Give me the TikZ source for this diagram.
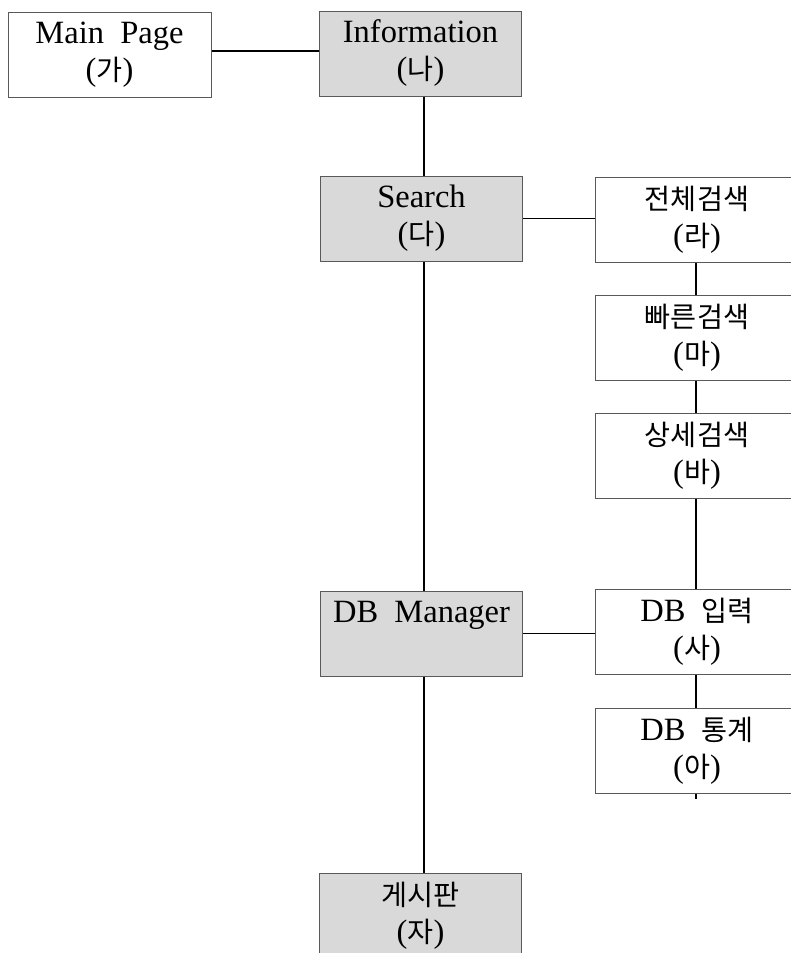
\documentclass[tikz,border=0pt]{standalone}
\usepackage{fontspec}
\setmainfont{Liberation Serif}
\newfontfamily\kr{Noto Sans CJK KR}[Scale=0.87]
\begin{document}
\begin{tikzpicture}[x=1pt,y=-1pt,
  box/.style={draw=black!65,line width=1pt,minimum height=85pt,inner sep=0pt,
    align=center,font=\fontsize{32.5}{37}\selectfont},
  wbox/.style={box,fill=white,minimum width=203pt},
  gbox/.style={box,fill=black!15,minimum width=202pt},
  link/.style={draw=black,line width=1.3pt}]
\useasboundingbox (0,0) rectangle (791,953);
\clip (0,0) rectangle (791,953);
% left / centre column
\node[wbox] (main) at (109.5,54.5) {Main\ \ Page\\({\kr 가})};
\node[gbox] (info) at (420.5,53.5) {Information\\({\kr 나})};
\node[gbox] (search) at (421.5,218.5) {Search\\({\kr 다})};
\node[gbox] (dbm) at (421.5,633.5) {DB\ \ Manager\\\phantom{({\kr 가})}};
\node[gbox] (board) at (420.5,915.5) {{\kr 게시판}\\({\kr 자})};
% right column
\node[wbox] (all) at (697,220) {{\kr 전체검색}\\({\kr 라})};
\node[wbox] (quick) at (697,338) {{\kr 빠른검색}\\({\kr 마})};
\node[wbox] (detail) at (697,455.5) {{\kr 상세검색}\\({\kr 바})};
\node[wbox] (dbin) at (697,631.5) {DB\ \ {\kr 입력}\\({\kr 사})};
\node[wbox] (dbstat) at (697,751) {DB\ \ {\kr 통계}\\({\kr 아})};
\coordinate (stub) at ([yshift=-5pt]dbstat.south);
% connectors
\draw[link] ([yshift=3.5pt]main.east) -- ([yshift=3.5pt]main.east -| info.west);
\draw[link] ([xshift=3.5pt]info.south) -- ([xshift=3.5pt]info.south |- search.north);
\draw[link] (search.east) -- (search.east -| all.west);
\draw[link] ([xshift=2.5pt]search.south) -- ([xshift=2.5pt]search.south |- dbm.north);
\draw[link] (dbm.east) -- (dbm.east -| dbin.west);
\draw[link] ([xshift=2.5pt]dbm.south) -- ([xshift=2.5pt]dbm.south |- board.north);
\draw[link] ([xshift=-1pt]all.south) -- ([xshift=-1pt]quick.north);
\draw[link] ([xshift=-1pt]quick.south) -- ([xshift=-1pt]detail.north);
\draw[link] ([xshift=-1pt]detail.south) -- ([xshift=-1pt]dbin.north);
\draw[link] ([xshift=-1pt]dbin.south) -- ([xshift=-1pt]dbstat.north);
\draw[link] ([xshift=-1pt]dbstat.south) -- ([xshift=-1pt]stub);
\end{tikzpicture}
\end{document}
